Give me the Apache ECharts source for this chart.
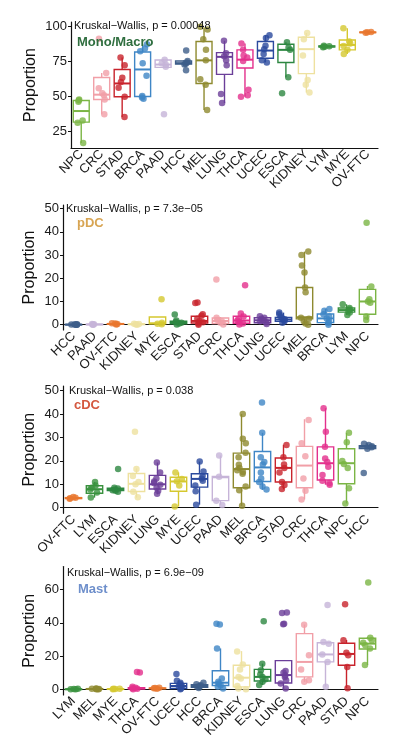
<!DOCTYPE html>
<html><head><meta charset="utf-8">
<script src="https://cdn.jsdelivr.net/npm/echarts@6/dist/echarts.min.js"></script>
<style>html,body{margin:0;padding:0;background:#fff}#c{width:394px;height:750px}</style>
</head><body><div id="c"></div>
<script>
// ---------------- DATA ----------------
// Box stats per category: [lower whisker, Q1, median, Q3, upper whisker]
const monoCats = ['NPC','CRC','STAD','BRCA','PAAD','HCC','MEL','LUNG','THCA','UCEC','ESCA','KIDNEY','LYM','MYE','OV-FTC'];
const monoBox = [
  [16.5,31.4,39.3,46.8,47.5],[37,47.5,51,63.3,66.5],[35,49.5,59,69,77.5],[48,49.7,69,81.5,87],
  [70,70.5,72.5,75.8,76.5],[72,72.8,73.5,75,75.5],[40,59,75.5,89,99],[45,65.5,78,81,89.5],
  [49.5,70,76,83,87.5],[74,77,82.5,89,93.5],[63.5,74,83,87,88.5],[52.5,66,83.5,92,95],
  [84.8,85.1,85.4,85.8,86.2],[80,83,86.5,90,98.5],[95.2,95.4,95.5,95.7,95.9]
];
const monoPoints = [
  [16.5,31,32.5,46,47,47.5],[37,47.5,50.5,52,55.5,66.5,91],[35,49.5,56,60,63,72,77.5],[48,49,50,64.5,73.5,82,84,87],
  [37,71,72.5,73.5,76],[68.5,72.5,73,74,75,82.5],[40,58,62,75.5,83,90.5,97.5,99.5],[45,51.5,72,75.5,78.5,80.5,89.5],
  [49.5,50.5,54.5,75,77.5,79,83,87.5],[74,75.5,80,83.5,86,91.5,93.5],[52,63.5,83,84.5,88.5],[52.5,58,61.5,79,90.5,95],
  [84.8,85.2,85.6,86],[80,83,85.8,87.5,89,98.5],[95.2,95.5,95.8]
];
const monoTicks = [25,50,75,100];

const pdcCats = ['HCC','PAAD','OV-FTC','KIDNEY','MYE','ESCA','STAD','CRC','THCA','LUNG','UCEC','MEL','BRCA','LYM','NPC'];
const pdcBox = [
  [0,0,0.05,0.1,0.2],[0,0.05,0.1,0.2,0.3],[0.1,0.2,0.3,0.45,0.6],[0,0.1,0.2,0.3,0.4],
  [0.2,0.35,0.6,3.3,3.3],[0.1,0.4,0.9,1.5,1.8],[0,0.7,1.6,3.6,4.5],[0.1,0.5,1.6,2.9,3.3],
  [0,0.6,1.8,3.6,4.8],[0.3,0.8,1.9,3,3.6],[0.8,1.4,2.2,3.1,5.2],[0,2.5,3.2,16,31.5],
  [0,0.9,2.7,4.6,6.8],[4.2,5.4,6.3,7.2,8.8],[2,4.5,10,15.2,16.7]
];
const pdcPoints = [
  [0,0,0.05,0.1,0.2,0.1],[0,0.1,0.2,0.3],[0.1,0.3,0.5,0.6],[0,0.15,0.3,0.4],
  [0.2,0.4,0.8,11],[0.1,0.5,0.8,1.2,1.8,4.4],[0,0.5,1,1.5,2.5,3.8,4.5,9.3,9.6],[0.1,0.8,1.5,2,3,19.5],
  [0.1,0.5,1.2,1.8,2.5,3.5,4.8,17],[0.3,1,1.5,2,2.5,3,3.6],[0.8,1.5,2,2.3,2.8,3.5,4.5,5.2],[0,0.5,1.5,2.5,3,14,16,22.5,25.5,30,31.5],
  [0,0.8,1.5,2.7,3.5,4.5,6,6.8],[4.2,5.2,6,6.5,7.2,8.8],[2,3.5,9.5,10,11,16.5,44]
];
const pdcTicks = [0,10,20,30,40,50];

const cdcCats = ['OV-FTC','LYM','ESCA','KIDNEY','LUNG','MYE','UCEC','PAAD','MEL','BRCA','STAD','CRC','THCA','NPC','HCC'];
const cdcBox = [
  [3.8,3.9,4.1,4.3,4.6],[4.3,6.2,7.9,9.4,11],[6.8,7.3,7.7,8.3,8.5],[4.3,6.9,10.2,14.6,16.8],
  [5.7,8,10,13.8,19.3],[0.5,7,11.2,13,15.1],[1.3,8.8,12.3,14.5,19.7],[1.2,3,13,13.3,22.3],
  [0.8,8.5,16.5,23.3,40],[7.6,11.2,17.2,24,32],[7.8,11,17,21.2,26.9],[3.5,8.5,18,26.2,37.8],
  [9.8,11.8,19,26,42.5],[1.8,10.2,19,25.2,32],[25,25.3,26,26.5,27.5]
];
const cdcPoints = [
  [3.8,4,4.2,4.6],[4.3,6.5,7.8,8.5,9.5,11],[6.8,7.2,7.5,7.8,8.2,8.5,16.5],[4.5,6.8,10,11,13.5,16.5,32.5],
  [6,7.2,8.5,9.8,10.5,11.2,12.5,15,19.3],[0.5,9.5,11.3,12.3,15],[1.3,7,9.5,11.5,12.5,13.5,15.5,19.7],[1.2,3,13.2,22.3],
  [0.8,7.5,9,14.5,15.2,16,17,18.3,21.5,23.5,27.5,29.5,40],[7.8,9,11,12.5,15,18.5,19.5,21.5,32,45],[8,9.7,11,15,17,18.5,21.5,26.8],[3.5,7.2,12.5,22,27.5,37.5],
  [9.8,10.5,11.5,14,17.5,19.5,21,26,32.5,42.5],[1.8,8.3,17,18.7,20,28,32],[14.8,25.2,25.8,26.2,26.8,27.3]
];
const cdcTicks = [0,10,20,30,40,50];

const mastCats = ['LYM','MEL','MYE','THCA','OV-FTC','UCEC','HCC','BRCA','KIDNEY','ESCA','LUNG','CRC','PAAD','STAD','NPC'];
const mastBox = [
  [0,0.05,0.1,0.2,0.3],[0,0.1,0.25,0.4,0.5],[0,0.1,0.2,0.3,0.4],[0,0.3,0.6,1,1.5],
  [0.3,0.5,0.6,0.8,1],[0,0.5,2,3.6,5.2],[0.8,1.3,2,2.8,4],[0.5,2.3,4,11.2,24.6],
  [0,1.5,7,14.5,23],[2.6,5,7.5,12,15.5],[0.3,3.8,8.6,17.3,17.3],[4.5,7.5,16.5,33.5,39],
  [1.6,16.5,21,28,28.7],[0.7,14.5,21.3,27.7,29.7],[14.6,24.3,27.5,30.7,31.5]
];
const mastPoints = [
  [0,0.1,0.2,0.3],[0,0.1,0.2,0.3,0.4,0.5],[0,0.2,0.3,0.4],[0,0.3,0.6,1,1.5,10.2,10.4],
  [0.3,0.6,0.8,1],[0,0.5,1.5,2,3,4,5.2,9.2],[0.8,1.5,2,2.5,3,4],[0.5,1.5,2.5,3.5,4.5,6.5,24.6,39,39.4],
  [0,0.5,2,6.5,7.5,12,15,22.8],[2.6,4.5,6,7.5,9,11.5,15.4,41],[0.5,3.5,5.5,7.5,8.5,10,11,39.2,39.5,46,46.2],[4.5,5.5,12,20.5,38.8],
  [1.6,16.5,21,27.5,28.5,50.8],[0.7,13.5,20.5,22,29.5,51.2],[14.6,24.5,26.5,28,29.5,31,64.3]
];
const mastTicks = [0,20,40,60];

const panelTitles = ['Mono/Macro','pDC','cDC','Mast'];
const pValues = ['0.00048','7.3e\u221205','0.038','6.9e\u221209'];

// ---------------- STYLE ----------------
const catColor = {
  'NPC':'#7BB545','CRC':'#F19FA7','STAD':'#C8232C','BRCA':'#3F86C6','PAAD':'#C6B4D8',
  'HCC':'#3D5E8A','MEL':'#8E8A2F','LUNG':'#6B3F99','THCA':'#E3308C','UCEC':'#2B4A9E',
  'ESCA':'#2D8741','KIDNEY':'#EEE19F','LYM':'#3A923F','MYE':'#D5C82F','OV-FTC':'#E8772E'
};
const titleColors = ['#2F6E3F','#D8A553','#D4583F','#6E8FCB'];
const FONT = '"Liberation Sans", Arial, Helvetica, sans-serif';

const panels = [
  {cats:monoCats, box:monoBox, pts:monoPoints, ticks:monoTicks, left:71, top:22, height:126, min:12.9, max:102.9, gap:32},
  {cats:pdcCats, box:pdcBox, pts:pdcPoints, ticks:pdcTicks, left:63, top:205, height:125, min:-2.3, max:51.6, gap:25},
  {cats:cdcCats, box:cdcBox, pts:cdcPoints, ticks:cdcTicks, left:63, top:386, height:127.3, min:-2.4, max:52, gap:25},
  {cats:mastCats, box:mastBox, pts:mastPoints, ticks:mastTicks, left:63, top:566.5, height:128.5, min:-3.4, max:73.9, gap:25}
];

function boxRender(cats){
  return function(params, api){
    const i = api.value(0);
    const c = catColor[cats[i]];
    const lo = api.coord([i, api.value(1)]);
    const q1 = api.coord([i, api.value(2)]);
    const md = api.coord([i, api.value(3)]);
    const q3 = api.coord([i, api.value(4)]);
    const hi = api.coord([i, api.value(5)]);
    const bw = api.size([1,0])[0]*0.78;
    const x = md[0];
    const lw = 1.4;
    return {type:'group', children:[
      {type:'line', shape:{x1:x,y1:hi[1],x2:x,y2:q3[1]}, style:{stroke:c,lineWidth:lw}},
      {type:'line', shape:{x1:x,y1:q1[1],x2:x,y2:lo[1]}, style:{stroke:c,lineWidth:lw}},
      {type:'rect', shape:{x:x-bw/2,y:q3[1],width:bw,height:Math.max(q1[1]-q3[1],0.5)}, style:{fill:'#ffffff',stroke:c,lineWidth:lw}},
      {type:'line', shape:{x1:x-bw/2,y1:md[1],x2:x+bw/2,y2:md[1]}, style:{stroke:c,lineWidth:2}}
    ]};
  };
}

const grid=[], xAxis=[], yAxis=[], series=[], graphic=[];
panels.forEach((p,k)=>{
  grid.push({left:p.left, right:16, top:p.top, height:p.height});
  xAxis.push({
    type:'category', gridIndex:k, data:p.cats,
    jitter:9, jitterOverlap:true,
    axisLine:{lineStyle:{color:'#111',width:1.2}},
    axisTick:{alignWithLabel:true, length:3, lineStyle:{color:'#111'}},
    axisLabel:{rotate:45, interval:0, margin:4, fontSize:13, color:'#1a1a1a', fontFamily:FONT},
    splitLine:{show:false}
  });
  yAxis.push({
    type:'value', gridIndex:k, min:p.min, max:p.max,
    name:'Proportion', nameLocation:'middle', nameGap:p.gap, nameMoveOverlap:false,
    nameTextStyle:{fontSize:16, color:'#111', fontFamily:FONT},
    axisLine:{show:true, lineStyle:{color:'#111',width:1.2}},
    axisTick:{show:true, length:3, customValues:p.ticks, lineStyle:{color:'#111'}},
    axisLabel:{fontSize:13, color:'#1a1a1a', margin:4, fontFamily:FONT, customValues:p.ticks},
    splitLine:{show:false}
  });
  series.push({
    type:'custom', xAxisIndex:k, yAxisIndex:k, z:2,
    renderItem: boxRender(p.cats),
    encode:{x:0, y:[1,2,3,4,5]},
    data: p.box.map((b,i)=>[i].concat(b)),
    silent:true
  });
  const sd=[];
  p.pts.forEach((arr,i)=>arr.forEach(v=>sd.push({value:[i,v], itemStyle:{color:catColor[p.cats[i]]}})));
  series.push({
    type:'scatter', xAxisIndex:k, yAxisIndex:k, z:3,
    symbolSize:6.5, data:sd, silent:true
  });
});

// Annotation texts (Kruskal-Wallis labels and panel titles)
const kwPos = [[74,26],[66,209],[69,391],[67,573]];
const ttPos = [[77,42],[77,223],[74,405],[78,589]];
panels.forEach((p,k)=>{
  graphic.push({type:'text', x:kwPos[k][0], y:kwPos[k][1], z:10,
    style:{text:'Kruskal\u2212Wallis, p = '+pValues[k], font:'11px '+FONT, fill:'#111', verticalAlign:'middle'}});
  graphic.push({type:'text', x:ttPos[k][0], y:ttPos[k][1], z:10,
    style:{text:panelTitles[k], font:'bold 13px '+FONT, fill:titleColors[k], verticalAlign:'middle'}});
});

const chart = echarts.init(document.getElementById('c'), null, {renderer:'canvas'});
chart.setOption({
  animation:false, backgroundColor:'#ffffff',
  textStyle:{fontFamily:FONT},
  grid, xAxis, yAxis, series, graphic
});
</script>
</body></html>
